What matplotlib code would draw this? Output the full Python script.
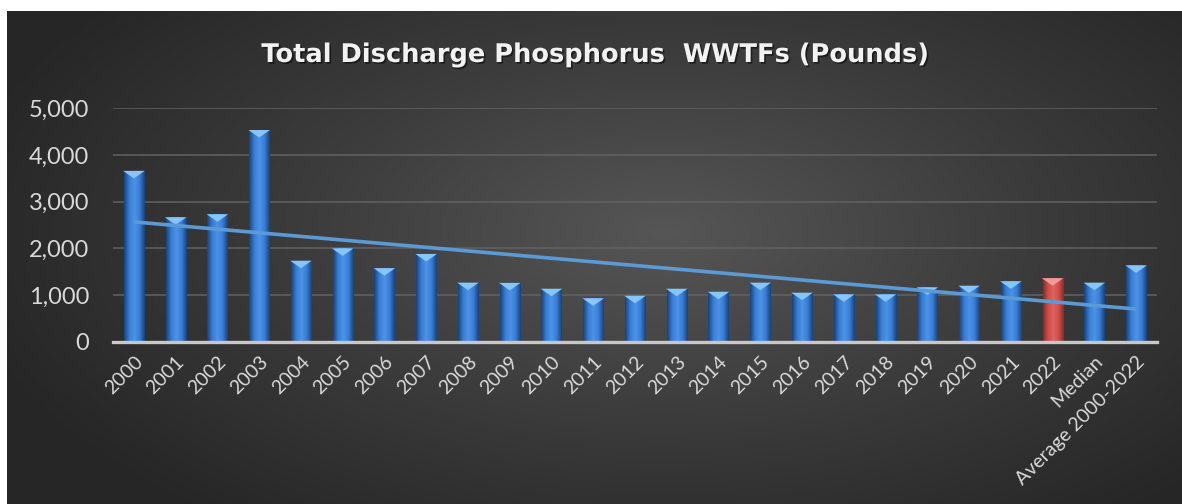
import numpy as np
import matplotlib.pyplot as plt
import matplotlib.patheffects as pe
from matplotlib.colors import LinearSegmentedColormap
from matplotlib.path import Path

# Chart values (pounds)
categories = ['2000', '2001', '2002', '2003', '2004', '2005', '2006', '2007', '2008',
              '2009', '2010', '2011', '2012', '2013', '2014', '2015', '2016', '2017',
              '2018', '2019', '2020', '2021', '2022', 'Median', 'Average 2000-2022']
values = [3660, 2665, 2730, 4535, 1735, 2000, 1575, 1880, 1265,
          1260, 1135, 930, 985, 1135, 1070, 1265, 1050, 1015,
          1015, 1165, 1200, 1295, 1360, 1265, 1635]
highlight = '2022'
y_ticks = [0, 1000, 2000, 3000, 4000, 5000]

W, H = 1182, 504
fig = plt.figure(figsize=(W / 100, H / 100), dpi=100)
fig.patch.set_facecolor('white')

# dark radial gradient background (chart area leaves a white strip top/left)
bg = fig.add_axes([7 / W, 0, 1 - 7 / W, 1 - 11 / H])
bg.set_axis_off()
gx, gy = np.meshgrid(np.linspace(0, 1, 400), np.linspace(0, 1, 200))
r = np.sqrt(((gx - 0.56) / 0.62) ** 2 + ((gy - 0.45) / 0.75) ** 2)
bg_cmap = LinearSegmentedColormap.from_list('bg', ['#565656', '#3c3c3c', '#262626'])
bg.imshow(np.clip(r, 0, 1), cmap=bg_cmap, aspect='auto', extent=[0, 1, 0, 1],
          origin='upper', vmin=0, vmax=1)

ax = fig.add_axes([113 / W, 1 - 341.7 / H, (1157 - 113) / W, (341.7 - 108.3) / H])
ax.patch.set_alpha(0)

x = np.arange(len(categories))
bars = ax.bar(x, values, width=0.48, color='#2f6fc2', zorder=3)

blue_grad = LinearSegmentedColormap.from_list('bl', ['#1a4279', '#387ed6', '#4c93e6', '#387ed6', '#1a4279'])
red_grad = LinearSegmentedColormap.from_list('rd', ['#8a2c29', '#cf4f4a', '#dc6460', '#cf4f4a', '#8a2c29'])
strip = np.linspace(0, 1, 64).reshape(1, -1)
for cat, b in zip(categories, bars):
    cmap = red_grad if cat == highlight else blue_grad
    im = ax.imshow(strip, cmap=cmap, aspect='auto', zorder=3.5,
                   extent=[b.get_x(), b.get_x() + b.get_width(), 0, b.get_height()])
    im.set_clip_path(b)

# light triangle caps on top of each bar
cap = Path([(-1, 0), (1, 0), (0, -0.7), (-1, 0)])
cap_colors = ['#f29a96' if c == highlight else '#86c6fb' for c in categories]
ax.scatter(x, values, marker=cap, s=240, c=cap_colors, linewidths=0, zorder=4)

# linear trendline over all bars
k, b0 = np.polyfit(x, values, 1)
ax.plot(x, k * x + b0, color='#5b9bd5', lw=2.6, zorder=5, solid_capstyle='butt')

ax.set_xlim(-0.5, len(categories) - 0.5)
ax.set_ylim(0, 5000)
ax.set_yticks(y_ticks)
ax.set_yticklabels([f'{t:,}' for t in y_ticks])
ax.set_xticks(x)
ax.set_xticklabels(categories, rotation=45, ha='right', va='top', rotation_mode='anchor')

ax.yaxis.grid(True, color='#626262', lw=1.1, zorder=0)
ax.set_axisbelow(True)
for side in ['top', 'right', 'left']:
    ax.spines[side].set_visible(False)
ax.spines['bottom'].set_color('#c8c8c8')
ax.spines['bottom'].set_linewidth(2.4)
ax.spines['bottom'].set_zorder(6)

ax.tick_params(axis='y', length=0, pad=17, labelsize=17, labelcolor='#d9d9d9')
ax.tick_params(axis='x', length=0, pad=8, labelsize=14, labelcolor='#d9d9d9')
for lab in ax.get_yticklabels() + ax.get_xticklabels():
    lab.set_fontfamily('Lato')

fig.text(0.504, 1 - 55 / H, 'Total Discharge Phosphorus  WWTFs (Pounds)',
         ha='center', va='center', fontsize=18.5, fontweight='bold',
         color='#f2f2f2', family='DejaVu Sans',
         path_effects=[pe.withSimplePatchShadow(offset=(1.2, -1.2), shadow_rgbFace='black', alpha=0.5)])

fig.savefig('out.png', dpi=100)
